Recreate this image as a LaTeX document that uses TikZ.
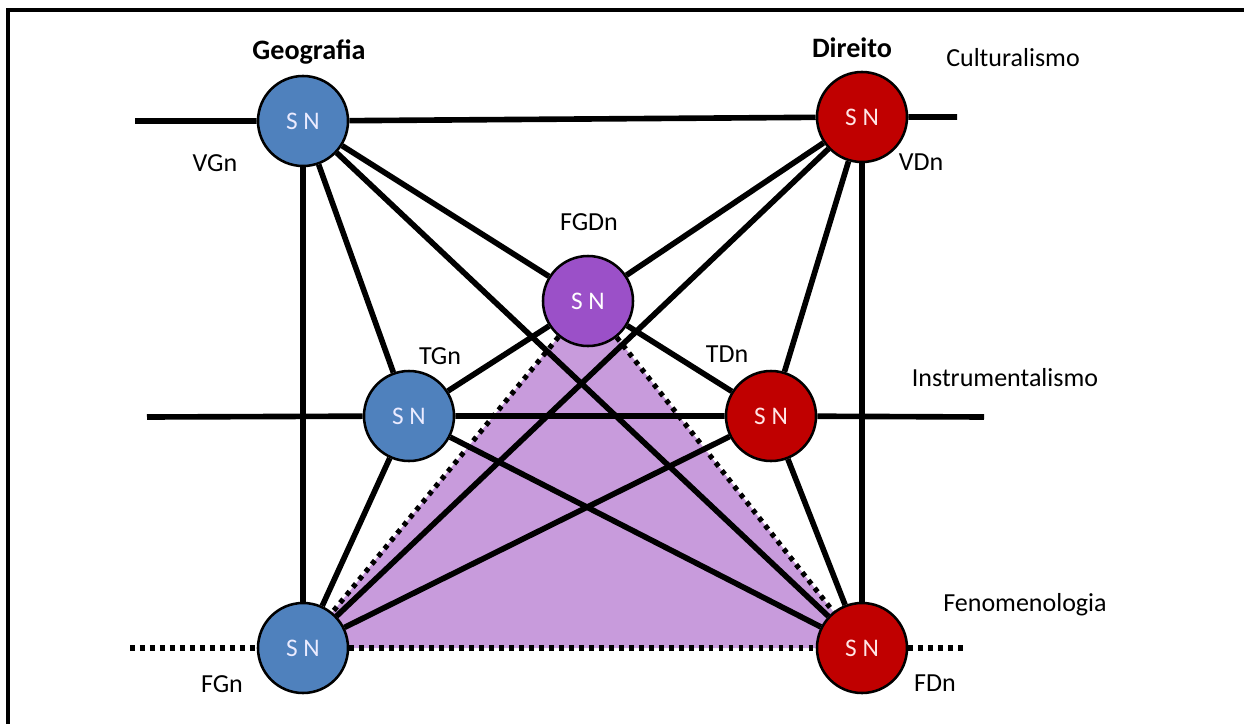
\documentclass[tikz,border=0pt]{standalone}
\usepackage{fontspec}
\setmainfont{Carlito}
\usepackage{tikz}
\usetikzlibrary{backgrounds}
\definecolor{geoblue}{RGB}{79,129,189}
\definecolor{dirred}{RGB}{192,0,0}
\definecolor{fgdpurple}{RGB}{155,80,200}
\definecolor{trifill}{RGB}{200,155,220}
\tikzset{
  snnode/.style={circle, draw=black, line width=1.8pt, minimum size=2.25cm, inner sep=0pt, font=\fontsize{18}{20}\selectfont},
  geonode/.style={snnode, fill=geoblue, text=blue!8!white},
  dirnode/.style={snnode, fill=dirred, text=red!10!white},
  fgdnode/.style={snnode, fill=fgdpurple, text=white},
  link/.style={line width=4pt},
  dotlink/.style={line width=3.6pt, dash pattern=on 3.4pt off 3.7pt},
  lbl/.style={font=\fontsize{18.5}{20}\selectfont},
  head/.style={font=\fontsize{20}{22}\selectfont\bfseries}
}

\begin{document}
\begin{tikzpicture}[x=0.025cm, y=-0.025cm]
  \useasboundingbox (0,0) rectangle (1244,724);
  % frame
  \draw[line width=2.2pt] (8,724) -- (8,10) -- (1244,10);

  % nodes
  \node[geonode] (vg) at (303,121) {S N};
  \node[dirnode] (vd) at (862,117) {S N};
  \node[fgdnode] (fgd) at (588,301) {S N};
  \node[geonode] (tg) at (409,416) {S N};
  \node[dirnode] (td) at (771,416) {S N};
  \node[geonode] (fg) at (303,648) {S N};
  \node[dirnode] (fd) at (862,648) {S N};

  % line ends
  \coordinate (cl) at (135,121);
  \coordinate (cr) at (957,117);
  \coordinate (il) at (147,417);
  \coordinate (ir) at (984,417);
  \coordinate (fl) at (130,648);
  \coordinate (fr) at (967,648);

  % labels
  \node[head] (geo) at (309,52) {Geografia};
  \node[head] (dir) at (852,48) {Direito};
  \node[lbl] (cult) at (1013,58) {Culturalismo};
  \node[lbl] (inst) at (1005,378) {Instrumentalismo};
  \node[lbl] (feno) at (1025,605) {Fenomenologia};
  \node[lbl] (vgn) at (215,163) {VGn};
  \node[lbl] (vdn) at (921,162) {VDn};
  \node[lbl] (fgdn) at (589,222) {FGDn};
  \node[lbl] (tgn) at (440,356) {TGn};
  \node[lbl] (tdn) at (727,354) {TDn};
  \node[lbl] (fgn) at (222,684) {FGn};
  \node[lbl] (fdn) at (935,683) {FDn};

  % shaded triangle
  \begin{scope}[on background layer]
    \fill[trifill] (fgd.center) -- (fg.center) -- (fd.center) -- cycle;
    \draw[dotlink] (fgd) -- (fg);
    \draw[dotlink] (fgd) -- (fd);
  \end{scope}

  % level lines
  \draw[link] (cl) -- (vg) -- (vd) -- (cr);
  \draw[link] (il) -- (tg) -- (td) -- (ir);
  \draw[dotlink] (fl) -- (fg) -- (fd) -- (fr);

  % connections
  \draw[link] (vg) -- (fg);
  \draw[link] (vg) -- (tg);
  \draw[link] (vg) -- (fgd);
  \draw[link] (vg) -- (fd);
  \draw[link] (vd) -- (fgd);
  \draw[link] (vd) -- (fg);
  \draw[link] (vd) -- (td);
  \draw[link] (vd) -- (fd);
  \draw[link] (fgd) -- (tg);
  \draw[link] (fgd) -- (td);
  \draw[link] (tg) -- (fg);
  \draw[link] (tg) -- (fd);
  \draw[link] (td) -- (fg);
  \draw[link] (td) -- (fd);
\end{tikzpicture}
\end{document}
